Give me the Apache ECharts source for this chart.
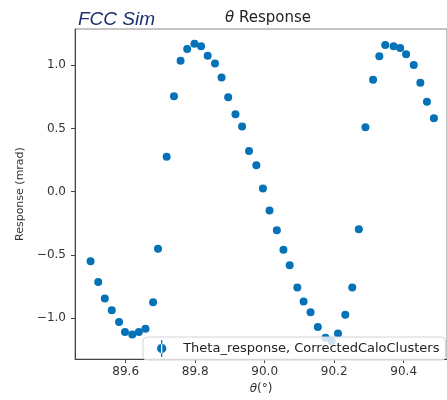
<!DOCTYPE html>
<html>
<head>
<meta charset="utf-8">
<title>theta response</title>
<script src="https://cdn.jsdelivr.net/npm/echarts@6/dist/echarts.min.js"></script>
<style>
  html, body { margin: 0; padding: 0; background: #fff; }
  #chart { width: 447px; height: 400px; }
</style>
</head>
<body>
<div id="chart"></div>
<script>
// theta (deg) of each measured point
const thetaDeg = [
  89.499, 89.521, 89.540, 89.560, 89.581, 89.598, 89.619, 89.638, 89.657, 89.679,
  89.693, 89.718, 89.739, 89.758, 89.777, 89.798, 89.817, 89.836, 89.857, 89.876,
  89.895, 89.916, 89.935, 89.955, 89.976, 89.995, 90.014, 90.035, 90.054, 90.072,
  90.094, 90.112, 90.132, 90.153, 90.175, 90.193, 90.211, 90.232, 90.252, 90.271,
  90.290, 90.312, 90.330, 90.347, 90.371, 90.390, 90.407, 90.429, 90.448, 90.467,
  90.487
]
// response (mrad)
const response = [
  -0.551, -0.714, -0.844, -0.937, -1.031, -1.109, -1.129, -1.109, -1.083, -0.875,
  -0.452, 0.277, 0.755, 1.036, 1.129, 1.171, 1.150, 1.075, 1.015, 0.903,
  0.748, 0.612, 0.516, 0.322, 0.210, 0.026, -0.148, -0.304, -0.460, -0.582,
  -0.758, -0.868, -0.953, -1.070, -1.156, -1.180, -1.122, -0.974, -0.758, -0.296,
  0.509, 0.885, 1.072, 1.160, 1.150, 1.137, 1.087, 1.002, 0.861, 0.711,
  0.581
]
const xTicks = [89.6, 89.8, 90.0, 90.2, 90.4]
const yTicks = [-1.0, -0.5, 0.0, 0.5, 1.0]
const seriesName = 'Theta_response, CorrectedCaloClusters'

const blue = '#0572b8'
const font = 'DejaVu Sans'
const fmt = v => v.toFixed(1).replace('-', '\u2212')

const chartInstance = echarts.init(document.getElementById('chart'))

chartInstance.setOption({
  animation: false,
  title: [
    {
      text: 'FCC Sim',
      left: 73,
      top: 5,
      textStyle: { fontFamily: 'Liberation Sans', fontStyle: 'italic', fontWeight: 'normal', fontSize: 19, color: '#1b2f6e' },
    },
    {
      text: '{i|θ} Response',
      left: 263,
      top: 6,
      textAlign: 'center',
      textStyle: {
        fontFamily: font, fontWeight: 'normal', fontSize: 15, color: '#222',
        rich: { i: { fontFamily: font, fontStyle: 'italic', fontSize: 15, color: '#222' } },
      },
    },
  ],
  legend: {
    data: [seriesName],
    left: 143,
    top: 337,
    padding: [3, 6, 3, 14],
    itemWidth: 11,
    itemHeight: 17,
    // marker with its error bar
    icon: 'path://M4.4 0H5.6V16H4.4Z M0.6 8A4.4 4.4 0 1 0 9.4 8A4.4 4.4 0 1 0 0.6 8Z',
    backgroundColor: 'rgba(255,255,255,0.8)',
    borderColor: '#d4d4d4',
    borderWidth: 1,
    borderRadius: 4,
    textStyle: { fontFamily: font, fontSize: 13, color: '#222', padding: [0, 0, 0, 11] },
  },
  grid: {
    show: true,
    left: 75,
    right: -3,
    top: 29,
    bottom: 36,
    borderColor: '#888',
    borderWidth: 1,
  },
  xAxis: {
    type: 'value',
    min: 89.4542,
    max: 90.5247,
    name: '{i|θ}(°)',
    nameLocation: 'middle',
    nameGap: 21,
    nameTextStyle: {
      fontFamily: font, fontSize: 12, color: '#333',
      rich: { i: { fontFamily: font, fontStyle: 'italic', fontSize: 12, color: '#333' } },
    },
    axisLine: { show: true, onZero: false, lineStyle: { color: '#444', width: 1 } },
    axisTick: { show: true, length: 4, customValues: xTicks, lineStyle: { color: '#444' } },
    axisLabel: { customValues: xTicks, formatter: fmt, margin: 7, fontFamily: font, fontSize: 12, color: '#333' },
    splitLine: { show: false },
  },
  yAxis: {
    type: 'value',
    min: -1.324,
    max: 1.287,
    name: 'Response (mrad)',
    nameLocation: 'middle',
    nameRotate: 90,
    nameGap: 47,
    nameTextStyle: { fontFamily: font, fontSize: 11, color: '#333' },
    axisLine: { show: true, onZero: false, lineStyle: { color: '#444', width: 1 } },
    axisTick: { show: true, length: 4, customValues: yTicks, lineStyle: { color: '#444' } },
    axisLabel: { customValues: yTicks, formatter: fmt, margin: 9, fontFamily: font, fontSize: 12, color: '#333' },
    splitLine: { show: false },
  },
  series: [
    {
      name: seriesName,
      type: 'scatter',
      symbol: 'circle',
      symbolSize: 8,
      itemStyle: { color: blue, opacity: 1 },
      data: thetaDeg.map((t, i) => [t, response[i]]),
    },
  ],
})
</script>
</body>
</html>
